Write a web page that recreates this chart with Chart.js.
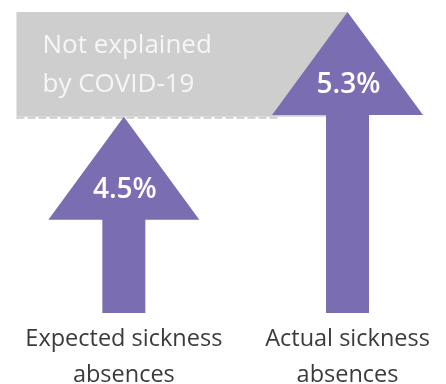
<!DOCTYPE html>
<html>
<head>
<meta charset="utf-8">
<script src="https://cdn.jsdelivr.net/npm/chart.js@4"></script>
<style>
  html, body { margin: 0; padding: 0; background: #fff; }
  #wrap { width: 446px; height: 384px; }
</style>
</head>
<body>
<div id="wrap"><canvas id="chart"></canvas></div>
<script>
// data
const categories = [['Expected sickness', 'absences'], ['Actual sickness', 'absences']];
const absenceRates = [4.5, 5.3];
const valueLabels = ['4.5%', '5.3%'];
const unexplainedRange = [4.5, 5.3];
const unexplainedLabel = ['Not explained', 'by COVID-19'];
const baseRate = 3;

const purple = '#7b6db1';
const grey = '#cecece';
const fontFamily = "'Open Sans', 'Noto Sans', sans-serif";

// grey band for the part not explained by covid
const bandPlugin = {
  id: 'band',
  beforeDatasetsDraw(chart) {
    const ctx = chart.ctx;
    const xs = chart.scales.x, ys = chart.scales.y;
    const x1 = xs.getPixelForValue(-0.48);
    const x2 = xs.getPixelForValue(1);
    const yTop = ys.getPixelForValue(unexplainedRange[1]);
    const yBot = ys.getPixelForValue(unexplainedRange[0]);
    ctx.save();
    ctx.fillStyle = grey;
    ctx.fillRect(x1, yTop, x2 - x1, yBot - yTop);
    ctx.strokeStyle = grey;
    ctx.lineWidth = 2;
    ctx.setLineDash([8, 3]);
    ctx.beginPath();
    ctx.moveTo(x1, yBot + 1);
    ctx.lineTo(xs.getPixelForValue(0.7), yBot + 1);
    ctx.stroke();
    ctx.setLineDash([]);
    ctx.fillStyle = '#f6f6f6';
    ctx.font = '400 26px ' + fontFamily;
    ctx.textAlign = 'left';
    ctx.textBaseline = 'alphabetic';
    ctx.fillText(unexplainedLabel[0], x1 + 26, yTop + 41);
    ctx.fillText(unexplainedLabel[1], x1 + 26, yTop + 80);
    ctx.restore();
  }
};

// whole arrow (shaft + head) drawn from each bar element
const arrowPlugin = {
  id: 'arrows',
  afterDatasetsDraw(chart) {
    const ctx = chart.ctx;
    const meta = chart.getDatasetMeta(0);
    const headH = 103, headW = 75.5;
    ctx.save();
    meta.data.forEach((bar, i) => {
      const half = bar.width / 2;
      ctx.fillStyle = purple;
      ctx.beginPath();
      ctx.moveTo(bar.x, bar.y);
      ctx.lineTo(bar.x + headW, bar.y + headH);
      ctx.lineTo(bar.x + half, bar.y + headH);
      ctx.lineTo(bar.x + half, bar.base);
      ctx.lineTo(bar.x - half, bar.base);
      ctx.lineTo(bar.x - half, bar.y + headH);
      ctx.lineTo(bar.x - headW, bar.y + headH);
      ctx.closePath();
      ctx.fill();
      ctx.fillStyle = '#ffffff';
      ctx.font = '600 28px ' + fontFamily;
      ctx.textAlign = 'center';
      ctx.textBaseline = 'middle';
      ctx.fillText(valueLabels[i], bar.x + 1, bar.y + 73);
    });
    ctx.restore();
  }
};

const ctx = document.getElementById('chart').getContext('2d');
const chart = new Chart(ctx, {
  type: 'bar',
  data: {
    datasets: [{
      data: absenceRates.map((v, i) => ({ x: i, y: [baseRate, v] })),
      backgroundColor: 'rgba(0,0,0,0)',
      barThickness: 43,
      borderWidth: 0
    }]
  },
  options: {
    responsive: true,
    maintainAspectRatio: false,
    animation: false,
    layout: { padding: { top: 12, left: 12, right: 9, bottom: 0 } },
    plugins: { legend: { display: false }, tooltip: { enabled: false } },
    scales: {
      x: {
        type: 'linear',
        min: -0.5,
        max: 1.4,
        offset: false,
        grid: { display: false },
        border: { display: false },
        afterBuildTicks(scale) { scale.ticks = [{ value: 0 }, { value: 1 }]; },
        afterFit(scale) { scale.height = 71; },
        ticks: {
          autoSkip: false,
          maxRotation: 0,
          padding: 0,
          color: '#3b3b3b',
          font: { family: fontFamily, size: 23.5, lineHeight: 1.53 },
          callback: (v) => categories[v]
        }
      },
      y: {
        min: baseRate,
        max: 5.3,
        display: false
      }
    }
  },
  plugins: [bandPlugin, arrowPlugin]
});
</script>
</body>
</html>
